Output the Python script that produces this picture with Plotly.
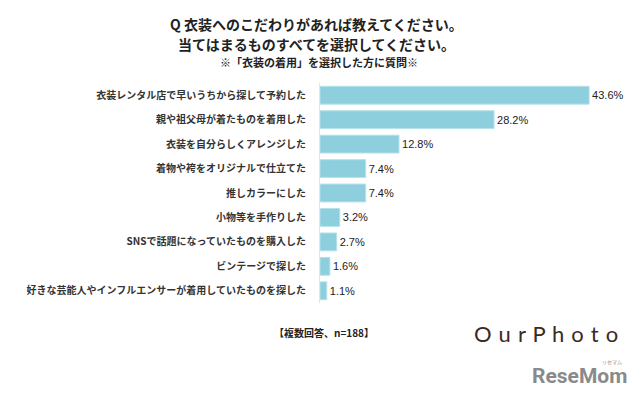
import plotly.graph_objects as go

categories = [
    "衣装レンタル店で早いうちから探して予約した",
    "親や祖父母が着たものを着用した",
    "衣装を自分らしくアレンジした",
    "着物や袴をオリジナルで仕立てた",
    "推しカラーにした",
    "小物等を手作りした",
    "SNSで話題になっていたものを購入した",
    "ビンテージで探した",
    "好きな芸能人やインフルエンサーが着用していたものを探した",
]
values = [43.6, 28.2, 12.8, 7.4, 7.4, 3.2, 2.7, 1.6, 1.1]
value_labels = ["43.6%", "28.2%", "12.8%", "7.4%", "7.4%", "3.2%", "2.7%", "1.6%", "1.1%"]

title_lines = [
    "Q 衣装へのこだわりがあれば教えてください。",
    "当てはまるものすべてを選択してください。",
]
subtitle = "※「衣装の着用」を選択した方に質問※"
note = "【複数回答、n=188】"

W, H = 640, 397
M_L, M_R, M_T, M_B = 320, 12, 83, 94
JP = "Noto Sans CJK JP"


def py(p):
    # pixel y -> paper y
    return (H - M_B - p) / (H - M_T - M_B)


def px(p):
    return (p - M_L) / (W - M_L - M_R)


fig = go.Figure(
    go.Bar(
        y=categories,
        x=values,
        orientation="h",
        text=value_labels,
        textposition="outside",
        textfont=dict(family="Liberation Sans, Arial", size=11, color="#222222"),
        marker=dict(color="#8ECFDD", line=dict(color="#B6E1EB", width=1)),
        cliponaxis=False,
        hoverinfo="skip",
    )
)

fig.update_layout(
    width=W,
    height=H,
    margin=dict(l=M_L, r=M_R, t=M_T, b=M_B, autoexpand=False),
    paper_bgcolor="white",
    plot_bgcolor="white",
    bargap=0.27,
    showlegend=False,
    xaxis=dict(range=[0, 49.9], visible=False, fixedrange=True),
    yaxis=dict(
        categoryorder="array",
        categoryarray=categories[::-1],
        showline=True,
        linecolor="#E4E4E4",
        linewidth=1,
        ticks="",
        showgrid=False,
        automargin=False,
        ticklabelstandoff=11,
        tickfont=dict(family=JP, size=10, color="#333333", weight="bold"),
        fixedrange=True,
    ),
)

annotations = [
    dict(text=title_lines[0], x=px(316), y=py(24), size=14),
    dict(text=title_lines[1], x=px(316), y=py(44), size=14),
    dict(text=subtitle, x=px(319), y=py(62), size=11),
    dict(text=note, x=px(324), y=py(332), size=10),
]
for a in annotations:
    fig.add_annotation(
        text=a["text"], x=a["x"], y=a["y"], xref="paper", yref="paper",
        xanchor="center", yanchor="middle", showarrow=False,
        font=dict(family=JP, size=a["size"], color="#222222", weight="bold"),
    )

# logos as text
fig.add_annotation(
    text=" \u200a".join("OurPhoto"), x=px(546), y=py(333), xref="paper", yref="paper",
    xanchor="center", yanchor="middle", showarrow=False,
    font=dict(family="Lato", size=22, color="#3A2A1F"),
)
fig.add_annotation(
    text="ReseMom", x=px(579), y=py(376), xref="paper", yref="paper",
    xanchor="center", yanchor="middle", showarrow=False,
    font=dict(family="Liberation Sans Narrow, Roboto", size=21, color="#8A8A8A", weight="bold"),
)
fig.add_annotation(
    text="リセマム", x=px(612), y=py(362), xref="paper", yref="paper",
    xanchor="center", yanchor="middle", showarrow=False,
    font=dict(family=JP, size=5, color="#8A8A8A"),
)

fig.write_html(
    "out.html",
    config={"displayModeBar": False, "staticPlot": True},
    post_script="document.body.style.margin='0';",
)
